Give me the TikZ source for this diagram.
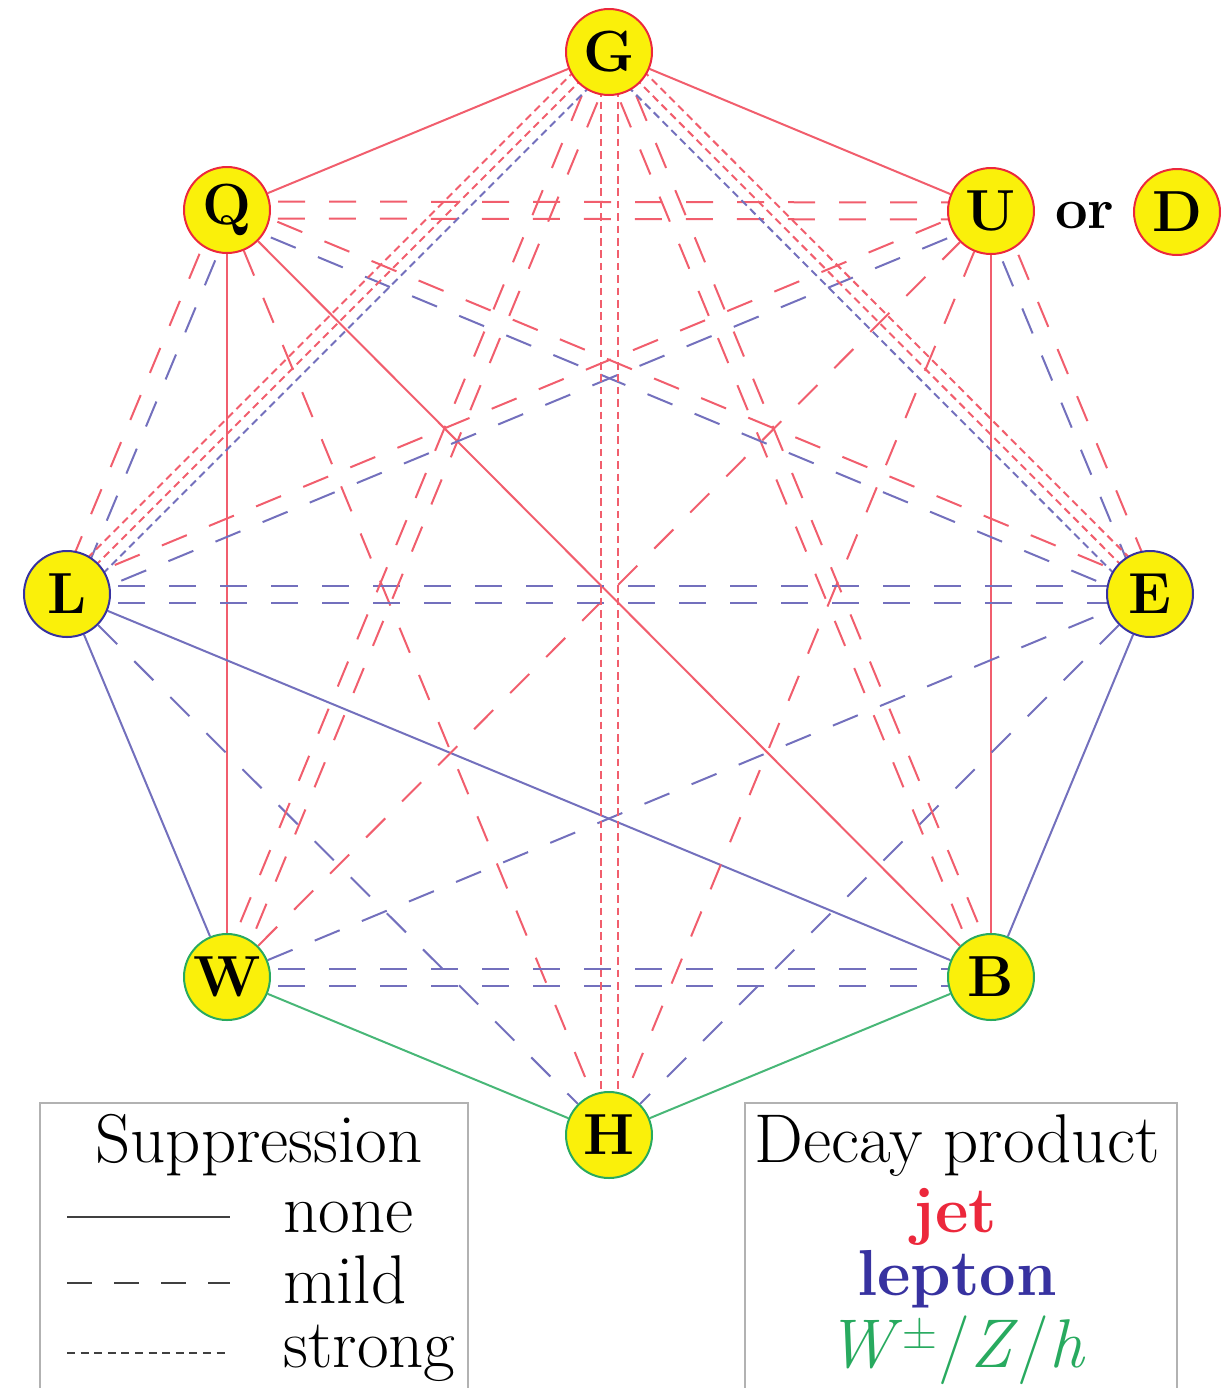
\documentclass[tikz,border=0pt]{standalone}
\usetikzlibrary{calc,backgrounds}
\definecolor{jetc}{RGB}{236,40,60}
\definecolor{lepc}{RGB}{55,50,160}
\definecolor{bosc}{RGB}{40,170,95}
\definecolor{nodefill}{RGB}{250,240,10}
\tikzset{
 pnode/.style={circle, fill=nodefill, draw=#1, line width=1pt, minimum size=43pt, inner sep=0pt, font=\fontsize{29}{33}\selectfont\bfseries},
 rl/.style={draw=jetc!75, line width=1pt},
 bl/.style={draw=lepc!70, line width=1pt},
 gl/.style={draw=bosc!85, line width=1pt},
 mild/.style={dash pattern=on 13.5pt off 12pt},
 strong/.style={dash pattern=on 3.8pt off 2.4pt},
 legtext/.style={font=\fontsize{34.5}{40}\selectfont, inner sep=0pt},
 legbold/.style={font=\fontsize{32.5}{38}\selectfont\bfseries, inner sep=0pt},
 legline/.style={draw=black!75, line width=0.9pt},
 legbox/.style={draw=black!30, line width=1pt},
}
\newcommand\ed[4]{\draw[#1] ($(#2)!#4!90:(#3)$) -- ($(#3)!#4!-90:(#2)$);}
\begin{document}
\begin{tikzpicture}[x=0.5pt,y=-0.5pt]
\useasboundingbox (0,0) rectangle (1225,1388);
% nodes
\node[pnode=jetc] (G) at (609,52) {G};
\node[pnode=jetc] (Q) at (227,210) {Q};
\node[pnode=jetc] (U) at (991,211) {U};
\node[pnode=jetc] (D) at (1177,212) {D};
\node[font=\fontsize{29}{33}\selectfont\bfseries, anchor=base, inner sep=0pt] (or) at (1085,228) {or};
\node[pnode=lepc] (L) at (67,594) {L};
\node[pnode=lepc] (E) at (1150,594) {E};
\node[pnode=bosc] (W) at (227,977) {W};
\node[pnode=bosc] (B) at (991,977) {B};
\node[pnode=bosc] (H) at (609,1135) {H};
\begin{pgfonlayer}{background}
% solid
\draw[rl] (G) -- (Q);
\draw[rl] (G) -- (U);
\draw[rl] (Q) -- (W);
\draw[rl] (U) -- (B);
\draw[rl] (Q) -- (B);
\draw[bl] (L) -- (W);
\draw[bl] (E) -- (B);
\draw[bl] (L) -- (B);
\draw[gl] (W) -- (H);
\draw[gl] (B) -- (H);
% mild singles
\draw[rl,mild] (Q) -- (H);
\draw[rl,mild] (U) -- (H);
\draw[rl,mild] (W) -- (U);
\draw[bl,mild] (L) -- (H);
\draw[bl,mild] (E) -- (H);
\draw[bl,mild] (W) -- (E);
% mild doubles
\ed{rl,mild}{Q}{U}{4.25pt}
\ed{rl,mild}{Q}{U}{-4.25pt}
\ed{bl,mild}{L}{E}{4.25pt}
\ed{bl,mild}{L}{E}{-4.25pt}
\ed{bl,mild}{W}{B}{4.25pt}
\ed{bl,mild}{W}{B}{-4.25pt}
\ed{rl,mild}{G}{W}{4.25pt}
\ed{rl,mild}{G}{W}{-4.25pt}
\ed{rl,mild}{G}{B}{4.25pt}
\ed{rl,mild}{G}{B}{-4.25pt}
% mixed mild doubles
\ed{rl,mild}{Q}{L}{-4.25pt}
\ed{bl,mild}{Q}{L}{4.25pt}
\ed{rl,mild}{U}{E}{4.25pt}
\ed{bl,mild}{U}{E}{-4.25pt}
\ed{rl,mild}{Q}{E}{4.25pt}
\ed{bl,mild}{Q}{E}{-4.25pt}
\ed{rl,mild}{U}{L}{-4.25pt}
\ed{bl,mild}{U}{L}{4.25pt}
% strong
\ed{rl,strong}{G}{H}{4.25pt}
\ed{rl,strong}{G}{H}{-4.25pt}
\ed{rl,strong}{G}{L}{-5.5pt}
\ed{rl,strong}{G}{L}{0pt}
\ed{bl,strong}{G}{L}{5.5pt}
\ed{rl,strong}{G}{E}{5.5pt}
\ed{rl,strong}{G}{E}{0pt}
\ed{bl,strong}{G}{E}{-5.5pt}
\end{pgfonlayer}
% legend: suppression
\draw[legbox] (40,1392) |- (468,1103) -- (468,1392);
\node[legtext, anchor=base] (supp) at (259,1162) {Suppression};
\draw[legline] (67,1217) -- (230,1217);
\draw[legline, dash pattern=on 12.5pt off 11pt] (67,1283) -- (230,1283);
\draw[legline, dash pattern=on 4pt off 2.8pt] (67,1353) -- (230,1353);
\node[legtext, anchor=base west] (none) at (283,1232) {none};
\node[legtext, anchor=base west] (mild) at (283,1303) {mild};
\node[legtext, anchor=base west] (strong) at (283,1367) {strong};
% legend: decay product
\draw[legbox] (745,1392) |- (1177,1103) -- (1177,1392);
\node[legtext, anchor=base] (decay) at (957,1162) {Decay product};
\node[legbold, anchor=base, text=jetc] (jet) at (955,1232) {jet};
\node[legbold, anchor=base, text=lepc] (lepton) at (957,1295) {lepton};
\node[legtext, anchor=base, text=bosc] (bos) at (956,1367) {\textit{W}\textsuperscript{±}/\textit{Z}/\textit{h}};
\end{tikzpicture}
\end{document}
